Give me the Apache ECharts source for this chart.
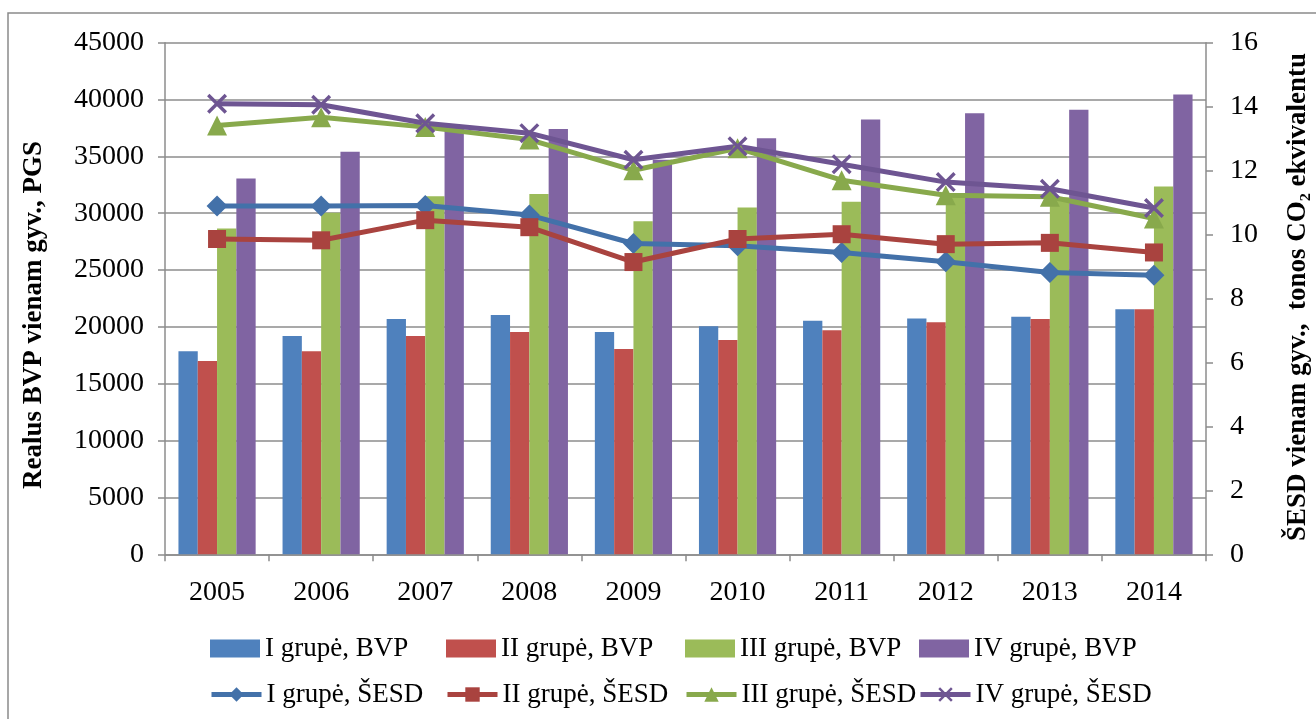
<!DOCTYPE html>
<html>
<head>
<meta charset="utf-8">
<script src="https://cdn.jsdelivr.net/npm/echarts@6/dist/echarts.min.js"></script>
<style>html,body{margin:0;padding:0;background:#fff;overflow:hidden;}#c{width:1316px;height:719px;}</style>
</head>
<body>
<div id="c"></div>
<script>
const years = ['2005','2006','2007','2008','2009','2010','2011','2012','2013','2014'];
const bvpI   = [17850, 19200, 20700, 21050, 19550, 20050, 20550, 20750, 20900, 21550];
const bvpII  = [17000, 17850, 19200, 19550, 18050, 18850, 19700, 20400, 20700, 21550];
const bvpIII = [28650, 30050, 31500, 31700, 29300, 30500, 31000, 31700, 31400, 32350];
const bvpIV  = [33050, 35400, 37600, 37400, 34700, 36600, 38250, 38800, 39100, 40450];
const sesdI   = [10.89, 10.89, 10.91, 10.61, 9.72, 9.65, 9.44, 9.15, 8.81, 8.73];
const sesdII  = [9.86, 9.82, 10.45, 10.23, 9.14, 9.86, 10.01, 9.70, 9.74, 9.44];
const sesdIII = [13.41, 13.67, 13.36, 12.97, 12.01, 12.70, 11.70, 11.23, 11.18, 10.50];
const sesdIV  = [14.09, 14.06, 13.48, 13.17, 12.34, 12.76, 12.20, 11.64, 11.43, 10.83];
const barNames = ['I grupė, BVP','II grupė, BVP','III grupė, BVP','IV grupė, BVP'];
const lineNames = ['I grupė, ŠESD','II grupė, ŠESD','III grupė, ŠESD','IV grupė, ŠESD'];
const leftTitle = 'Realus BVP vienam gyv., PGS';
const rightTitle = 'ŠESD vienam gyv.,  tonos CO₂ ekvivalentu';

const FONT = 'Liberation Serif';
const barColors = ['#4f81bd','#c0504d','#9bbb59','#8064a2'];
const lineColors = ['#4371a9','#a9433f','#88a94c','#6e5592'];
const gridGray = '#8c8c8c';
const xPath = 'path://M0,1.2 L1.2,0 L10,8.8 L8.8,10 Z M8.8,0 L10,1.2 L1.2,10 L0,8.8 Z';

const chart = echarts.init(document.getElementById('c'), null, {renderer:'canvas'});
const barData = [bvpI, bvpII, bvpIII, bvpIV];
const lineData = [sesdI, sesdII, sesdIII, sesdIV];
const symbols = ['diamond','rect','triangle', xPath];
const symSizes = [21, 18, 20, 20];

const series = [];
barNames.forEach((n,i)=>{
  series.push({name:n, type:'bar', data:barData[i], yAxisIndex:0, barWidth:19.3, barGap:'0%',
    itemStyle:{color:barColors[i]}, z:2});
});
lineNames.forEach((n,i)=>{
  series.push({name:n, type:'line', data:lineData[i], yAxisIndex:1,
    symbol:symbols[i], symbolSize:symSizes[i], showAllSymbol:true,
    lineStyle:{color:lineColors[i], width:5},
    itemStyle:{color:lineColors[i]}, z:3});
});

const legendText = {fontFamily:FONT, fontSize:27, color:'#000'};
const colX = [205, 441, 680, 914];
const legends = [];
barNames.forEach((n,i)=>{
  legends.push({data:[n], left:colX[i], top:630, itemWidth:50, itemHeight:18, icon:'rect',
    itemStyle:{borderWidth:0}, textStyle:legendText});
});
lineNames.forEach((n,i)=>{
  legends.push({data:[n], left:colX[i]-1, top:676, itemWidth:50, itemHeight:18,
    lineStyle:{width:5}, textStyle:legendText});
});

chart.setOption({
  animation:false,
  backgroundColor:'#fff',
  textStyle:{fontFamily:FONT},
  graphic:[
    {type:'rect', shape:{x:8, y:13, width:1330, height:730},
      style:{fill:'none', stroke:'#8a8a8a', lineWidth:1.5}, silent:true},
    {type:'text', x:34, y:315, rotation:Math.PI/2,
      style:{text:leftTitle, font:'bold 27px "Liberation Serif"', fill:'#000', textAlign:'center', textVerticalAlign:'middle'}},
    {type:'text', x:1298, y:297, rotation:Math.PI/2,
      style:{text:rightTitle, font:'bold 27px "Liberation Serif"', fill:'#000', textAlign:'center', textVerticalAlign:'middle'}}
  ],
  grid:{left:165, right:110, top:42.7, bottom:164.7, containLabel:false},
  legend:legends,
  xAxis:{type:'category', data:years,
    axisLine:{show:true, lineStyle:{color:gridGray, width:1.5}},
    axisTick:{show:true, length:7, lineStyle:{color:gridGray, width:1.5}},
    axisLabel:{fontFamily:FONT, fontSize:28, color:'#000', margin:24}},
  yAxis:[
    {type:'value', min:0, max:45000, interval:5000, position:'left',
      axisLine:{show:true, lineStyle:{color:gridGray, width:1.5}},
      axisTick:{show:true, length:7, lineStyle:{color:gridGray, width:1.5}},
      splitLine:{show:true, lineStyle:{color:gridGray, width:1.5}},
      axisLabel:{fontFamily:FONT, fontSize:28, color:'#000', margin:21, formatter:v=>String(v)}},
    {type:'value', min:0, max:16, interval:2, position:'right',
      axisLine:{show:true, lineStyle:{color:gridGray, width:1.5}},
      axisTick:{show:true, length:7, lineStyle:{color:gridGray, width:1.5}},
      splitLine:{show:false},
      axisLabel:{fontFamily:FONT, fontSize:28, color:'#000', margin:24, formatter:v=>String(v)}}
  ],
  series:series
});
</script>
</body>
</html>
